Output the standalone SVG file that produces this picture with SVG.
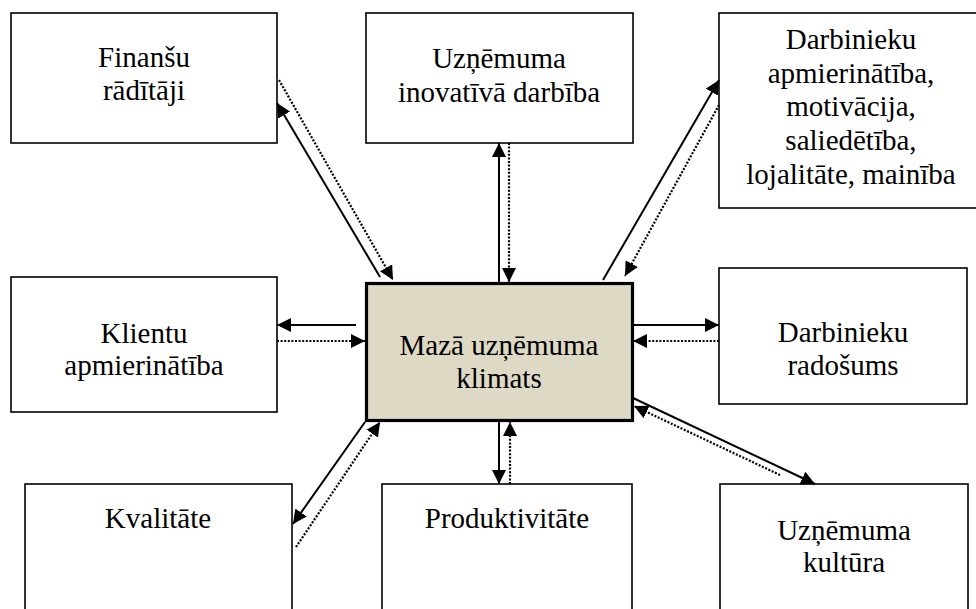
<svg xmlns="http://www.w3.org/2000/svg" width="976" height="609" viewBox="0 0 976 609">
<defs>
<marker id="ah" markerUnits="userSpaceOnUse" markerWidth="15" markerHeight="14" refX="14" refY="7" orient="auto">
<path d="M0,0 L14,7 L0,14 z" fill="#000"/>
</marker>
<style>
.box{fill:#fff;stroke:#000;stroke-width:1.6}
.ctr{fill:#DDD9C4;stroke:#000;stroke-width:3.2}
.s{stroke:#000;stroke-width:2;fill:none;marker-end:url(#ah)}
.d{stroke:#000;stroke-width:2.2;fill:none;stroke-dasharray:2 1.6;marker-end:url(#ah)}
</style>
</defs>
<rect width="976" height="609" fill="#fff"/>
<g font-family="Liberation Serif, Times New Roman, serif" font-size="29" text-anchor="middle" fill="#000">
<g id="fin"><rect class="box" x="11" y="13" width="266" height="130"/><text x="144" y="67">Finanšu</text><text x="144" y="100">rādītāji</text></g>
<g id="innov"><rect class="box" x="366" y="13" width="267" height="130"/><text x="499" y="68">Uzņēmuma</text><text x="499" y="102">inovatīvā darbība</text></g>
<g id="darbapm"><rect class="box" x="719" y="13" width="270" height="195"/><text x="851" y="49">Darbinieku</text><text x="851" y="83">apmierinātība,</text><text x="851" y="116">motivācija,</text><text x="851" y="150">saliedētība,</text><text x="851" y="184">lojalitāte, mainība</text></g>
<g id="klient"><rect class="box" x="11" y="277" width="266" height="135"/><text x="144" y="343">Klientu</text><text x="144" y="375">apmierinātība</text></g>
<g id="darbrad"><rect class="box" x="719" y="268" width="248" height="136"/><text x="843" y="342">Darbinieku</text><text x="843" y="375">radošums</text></g>
<g id="kval"><rect class="box" x="25" y="484" width="267" height="140"/><text x="158" y="528">Kvalitāte</text></g>
<g id="prod"><rect class="box" x="382" y="484" width="250" height="140"/><text x="507" y="528">Produktivitāte</text></g>
<g id="kult"><rect class="box" x="720" y="484" width="248" height="140"/><text x="844" y="540">Uzņēmuma</text><text x="844" y="572">kultūra</text></g>
<g id="center"><rect class="ctr" x="366.5" y="283.5" width="266" height="137"/><text x="499" y="355">Mazā uzņēmuma</text><text x="499" y="388">klimats</text></g>
</g>
<g id="connectors">
<line class="s" x1="380" y1="277" x2="277" y2="103"/>
<line class="d" x1="279" y1="80" x2="393" y2="280"/>
<line class="s" x1="499" y1="283" x2="499" y2="143"/>
<line class="d" x1="509" y1="143" x2="509" y2="282"/>
<line class="s" x1="603" y1="280" x2="719" y2="80"/>
<line class="d" x1="719" y1="105" x2="625" y2="276"/>
<line class="s" x1="356" y1="325" x2="277" y2="325"/>
<line class="d" x1="277" y1="341" x2="365" y2="341"/>
<line class="s" x1="632" y1="325" x2="719" y2="325"/>
<line class="d" x1="719" y1="341" x2="633" y2="341"/>
<line class="s" x1="365" y1="422" x2="293" y2="524"/>
<line class="d" x1="296" y1="547" x2="380" y2="422"/>
<line class="s" x1="499" y1="422" x2="499" y2="484"/>
<line class="d" x1="510" y1="484" x2="510" y2="422"/>
<line class="s" x1="633" y1="398" x2="815" y2="484"/>
<line class="d" x1="780" y1="475" x2="634" y2="406"/>
</g>
</svg>
